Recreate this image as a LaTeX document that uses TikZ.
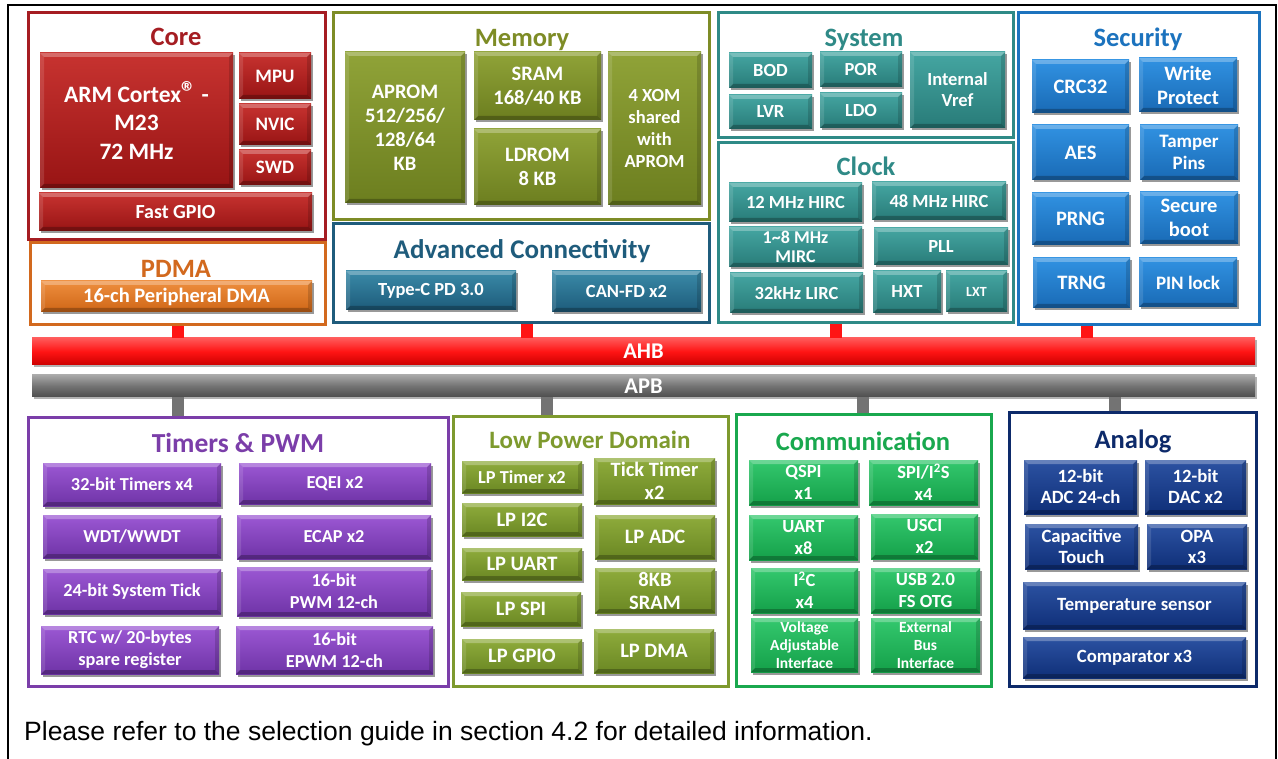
\documentclass[tikz,border=0pt]{standalone}
\usepackage{fontspec}
\setmainfont{Carlito}
\newfontfamily\arialf{Liberation Sans}
\usetikzlibrary{shadows}
\definecolor{coreF}{HTML}{A51D22}\definecolor{coreT}{HTML}{C73330}\definecolor{coreB}{HTML}{981414}
\definecolor{pdmaF}{HTML}{D2691E}\definecolor{pdmaT}{HTML}{EE8E3E}\definecolor{pdmaB}{HTML}{CF6616}
\definecolor{memF}{HTML}{7E8C26}\definecolor{memT}{HTML}{90A338}\definecolor{memB}{HTML}{6C7E1F}
\definecolor{advF}{HTML}{1F5C7C}\definecolor{advT}{HTML}{3A8AA8}\definecolor{advB}{HTML}{1D5B7A}
\definecolor{sysF}{HTML}{2F8A87}\definecolor{sysT}{HTML}{45A6A2}\definecolor{sysB}{HTML}{287B78}
\definecolor{secF}{HTML}{1C73BE}\definecolor{secT}{HTML}{3192E2}\definecolor{secB}{HTML}{196AB5}
\definecolor{tmrF}{HTML}{7B3EA9}\definecolor{tmrT}{HTML}{9C58D4}\definecolor{tmrB}{HTML}{6E33A6}
\definecolor{lpF}{HTML}{7E9A2E}\definecolor{lpT}{HTML}{8FAC3C}\definecolor{lpB}{HTML}{6A8723}
\definecolor{comF}{HTML}{19A84E}\definecolor{comT}{HTML}{34C86E}\definecolor{comB}{HTML}{14A049}
\definecolor{anaF}{HTML}{0D2A6A}\definecolor{anaT}{HTML}{2C52A2}\definecolor{anaB}{HTML}{0F2F78}
\definecolor{ahbT}{HTML}{FF5A5A}\definecolor{ahbM}{HTML}{FF1414}\definecolor{ahbB}{HTML}{CC0000}
\definecolor{apbT}{HTML}{A8A8A8}\definecolor{apbM}{HTML}{737373}\definecolor{apbB}{HTML}{4E4E4E}
\newcommand\mybevel{%
  \fill[white,opacity=0.28] (path picture bounding box.north west) -- (path picture bounding box.north east)
    -- ([shift={(-4pt,-4pt)}]path picture bounding box.north east) -- ([shift={(4pt,-4pt)}]path picture bounding box.north west) -- cycle;
  \fill[white,opacity=0.12] (path picture bounding box.north west) -- (path picture bounding box.south west)
    -- ([shift={(4pt,4pt)}]path picture bounding box.south west) -- ([shift={(4pt,-4pt)}]path picture bounding box.north west) -- cycle;
  \fill[black,opacity=0.25] (path picture bounding box.south west) -- (path picture bounding box.south east)
    -- ([shift={(-4pt,4pt)}]path picture bounding box.south east) -- ([shift={(4pt,4pt)}]path picture bounding box.south west) -- cycle;
  \fill[black,opacity=0.15] (path picture bounding box.north east) -- (path picture bounding box.south east)
    -- ([shift={(-4pt,4pt)}]path picture bounding box.south east) -- ([shift={(-4pt,-4pt)}]path picture bounding box.north east) -- cycle;}
\newcommand\bx[7]{\node[#6, minimum width={#4-#2}, minimum height={#5-#3}] (#1) at ({(#2+#4)/2},{(#3+#5)/2}) {#7};}
\newcommand\frm[6]{\node[frame=#6, minimum width={#4-#2}, minimum height={#5-#3}] (#1) at ({(#2+#4)/2},{(#3+#5)/2}) {};}
\newcommand\fs[2]{\fontsize{#1}{#2}\selectfont\bfseries}
\tikzset{
  blk/.style={text=white, align=center, inner sep=0pt, outer sep=0pt,
    font=\fs{18.5}{22},
    drop shadow={shadow xshift=1.5pt, shadow yshift=-2.5pt, opacity=0.4, fill=black},
    path picture={\mybevel}},
  coreblk/.style={blk, top color=coreT, bottom color=coreB, font=\fs{20}{24}},
  pdmablk/.style={blk, top color=pdmaT, bottom color=pdmaB, font=\fs{20.5}{24}},
  memblk/.style={blk, top color=memT, bottom color=memB, font=\fs{20.5}{24}},
  advblk/.style={blk, top color=advT, bottom color=advB},
  sysblk/.style={blk, top color=sysT, bottom color=sysB},
  secblk/.style={blk, top color=secT, bottom color=secB, font=\fs{20.5}{24}},
  tmrblk/.style={blk, top color=tmrT, bottom color=tmrB, font=\fs{18.3}{22}},
  lpblk/.style={blk, top color=lpT, bottom color=lpB, font=\fs{20.5}{23}},
  comblk/.style={blk, top color=comT, bottom color=comB, font=\fs{18.5}{22}},
  anablk/.style={blk, top color=anaT, bottom color=anaB, font=\fs{18.7}{21}},
  frame/.style={draw=#1, line width=3pt, fill=white, inner sep=0pt},
  ttl/.style={anchor=base, text=#1, font=\fs{26.5}{28}, inner sep=0pt},
  bus/.style={inner sep=0pt, text=white, font=\fs{22.5}{24},
    drop shadow={shadow xshift=1.5pt, shadow yshift=-2pt, opacity=0.3, fill=black}},
  ahbstub/.style={line width=12pt, draw=ahbM},
  apbstub/.style={line width=12pt, draw=apbM},
}
\begin{document}
\begin{tikzpicture}[x=1pt,y=-1pt]
\useasboundingbox (0,0) rectangle (1278,759);
\draw[line width=2pt] (8,780) -- (8,5) -- (1276,5) -- (1276,780);
% stub coordinates
\coordinate (s1) at (178,330); \coordinate (s2) at (527,330);
\coordinate (s3) at (836,330); \coordinate (s4) at (1087,330);
\coordinate (g1) at (178,405); \coordinate (g2) at (547,405);
\coordinate (g3) at (863,405); \coordinate (g4) at (1115,405);
% frames
\frm{core}{28}{13}{325}{240}{coreF}
\frm{pdma}{30}{243}{325}{325}{pdmaF}
\frm{mem}{333}{13}{709}{220}{memF}
\frm{adv}{333}{224}{709}{323}{advF}
\frm{sys}{718}{13}{1013}{138}{sysF}
\frm{clk}{718}{143}{1013}{323}{sysF}
\frm{sec}{1018}{13}{1259}{325}{secF}
\frm{tmr}{28}{418}{448}{686}{tmrF}
\frm{lp}{453}{417}{728}{686}{lpF}
\frm{com}{736}{415}{991}{686}{comF}
\frm{ana}{1009}{413}{1256}{686}{anaF}
% buses
\node[bus, top color=ahbT, bottom color=ahbB, middle color=ahbM, minimum width=1223, minimum height=27] (ahb) at (643.5,351.5) {AHB};
\node[bus, top color=apbT, bottom color=apbB, middle color=apbM, minimum width=1223, minimum height=22] (apb) at (643.5,386) {APB};
% stubs
\draw[ahbstub] (pdma.south -| s1) -- (ahb.north -| s1);
\draw[ahbstub] (adv.south -| s2) -- (ahb.north -| s2);
\draw[ahbstub] (clk.south -| s3) -- (ahb.north -| s3);
\draw[ahbstub] (sec.south -| s4) -- (ahb.north -| s4);
\draw[apbstub] (apb.south -| g1) -- (tmr.north -| g1);
\draw[apbstub] (apb.south -| g2) -- (lp.north -| g2);
\draw[apbstub] (apb.south -| g3) -- (com.north -| g3);
\draw[apbstub] (apb.south -| g4) -- (ana.north -| g4);
% titles
\node[ttl=coreF] (tcore) at (176,46) {Core};
\node[ttl=pdmaF] (tpdma) at (176,278) {PDMA};
\node[ttl=memF] (tmem) at (522,47) {Memory};
\node[ttl=advF, font=\fs{27}{28}] (tadv) at (522,259) {Advanced Connectivity};
\node[ttl=sysF] (tsys) at (864,47) {System};
\node[ttl=sysF] (tclk) at (866,176) {Clock};
\node[ttl=secF] (tsec) at (1138,47) {Security};
\node[ttl=tmrF, font=\fs{27.5}{28}] (ttmr) at (238,453) {Timers \& PWM};
\node[ttl=lpF, font=\fs{25}{26}] (tlp) at (590,449) {Low Power Domain};
\node[ttl=comF] (tcom) at (863,450) {Communication};
\node[ttl=anaF] (tana) at (1133,449) {Analog};
% Core
\bx{arm}{40}{53}{233}{188}{coreblk, font=\fs{23.5}{28.5}}{ARM Cortex{\fontsize{30}{30}\selectfont ®} -\\M23\\72 MHz}
\bx{mpu}{239}{53}{311}{99}{coreblk, font=\fs{19}{22}}{MPU}
\bx{nvic}{239}{104}{311}{145}{coreblk, font=\fs{19}{22}}{NVIC}
\bx{swd}{239}{150}{311}{185}{coreblk, font=\fs{19}{22}}{SWD}
\bx{gpio}{39}{193}{312}{231}{coreblk}{Fast GPIO}
% PDMA
\bx{dma}{41}{281}{312}{312}{pdmablk}{16-ch Peripheral DMA}
% Memory
\bx{aprom}{345}{52}{465}{203}{memblk}{APROM\\512/256/\\128/64\\KB}
\bx{sram}{474}{52}{601}{120}{memblk}{SRAM\\168/40 KB}
\bx{ldrom}{474}{129}{601}{205}{memblk}{LDROM\\8 KB}
\bx{xom}{608}{52}{701}{205}{memblk, font=\fs{18.5}{22}}{4 XOM\\shared\\with\\APROM}
% Advanced connectivity
\bx{typec}{346}{271}{516}{310}{advblk}{Type-C PD 3.0}
\bx{canfd}{552}{271}{701}{312}{advblk}{CAN-FD x2}
% System
\bx{bod}{729}{53}{812}{88}{sysblk}{BOD}
\bx{por}{820}{52}{902}{87}{sysblk}{POR}
\bx{lvr}{729}{95}{812}{129}{sysblk}{LVR}
\bx{ldo}{820}{93}{902}{128}{sysblk}{LDO}
\bx{vref}{910}{52}{1005}{128}{sysblk, font=\fs{18.5}{21}}{Internal\\Vref}
% Clock
\bx{hirc12}{729}{183}{862}{222}{sysblk}{12 MHz HIRC}
\bx{hirc48}{872}{182}{1006}{220}{sysblk}{48 MHz HIRC}
\bx{mirc}{729}{227}{862}{267}{sysblk, font=\fs{18}{19}}{1\textasciitilde 8 MHz\\MIRC}
\bx{pll}{874}{228}{1008}{265}{sysblk}{PLL}
\bx{lirc}{730}{273}{863}{313}{sysblk}{32kHz LIRC}
\bx{hxt}{873}{271}{941}{313}{sysblk}{HXT}
\bx{lxt}{946}{271}{1007}{312}{sysblk, font=\fs{14}{16}}{LXT}
% Security
\bx{crc}{1032}{60}{1129}{113}{secblk}{CRC32}
\bx{wp}{1139}{58}{1237}{112}{secblk}{Write\\Protect}
\bx{aes}{1032}{125}{1129}{180}{secblk}{AES}
\bx{tamper}{1140}{125}{1238}{180}{secblk, font=\fs{19}{22}}{Tamper\\Pins}
\bx{prng}{1032}{193}{1129}{245}{secblk}{PRNG}
\bx{sboot}{1140}{192}{1238}{244}{secblk}{Secure\\boot}
\bx{trng}{1033}{258}{1130}{308}{secblk}{TRNG}
\bx{pinlock}{1139}{258}{1237}{307}{secblk, font=\fs{19}{22}}{PIN lock}
% Timers & PWM
\bx{t32}{43}{463}{221}{506}{tmrblk}{32-bit Timers x4}
\bx{eqei}{239}{463}{431}{504}{tmrblk}{EQEI x2}
\bx{wdt}{43}{515}{221}{558}{tmrblk}{WDT/WWDT}
\bx{ecap}{237}{515}{431}{559}{tmrblk}{ECAP x2}
\bx{systick}{43}{569}{221}{614}{tmrblk}{24-bit System Tick}
\bx{pwm}{237}{567}{431}{616}{tmrblk}{16-bit\\PWM 12-ch}
\bx{rtc}{41}{626}{219}{674}{tmrblk}{RTC w/ 20-bytes\\spare register}
\bx{epwm}{236}{626}{433}{674}{tmrblk}{16-bit\\EPWM 12-ch}
% Low power domain
\bx{lptmr}{462}{461}{582}{493}{lpblk, font=\fs{18.3}{21}}{LP Timer x2}
\bx{tick}{594}{458}{715}{504}{lpblk}{Tick Timer\\x2}
\bx{lpi2c}{462}{503}{582}{536}{lpblk}{LP I2C}
\bx{lpadc}{595}{515}{715}{559}{lpblk}{LP ADC}
\bx{lpuart}{462}{548}{582}{580}{lpblk}{LP UART}
\bx{lpsram}{595}{568}{715}{613}{lpblk}{8KB\\SRAM}
\bx{lpspi}{461}{592}{581}{626}{lpblk}{LP SPI}
\bx{lpgpio}{462}{639}{582}{673}{lpblk}{LP GPIO}
\bx{lpdma}{594}{629}{714}{673}{lpblk}{LP DMA}
% Communication
\bx{qspi}{749}{460}{858}{505}{comblk}{QSPI\\x1}
\bx{spi}{869}{460}{978}{505}{comblk}{SPI/I\textsuperscript{2}S\\x4}
\bx{uart}{749}{515}{858}{560}{comblk}{UART\\x8}
\bx{usci}{871}{514}{978}{559}{comblk}{USCI\\x2}
\bx{i2c}{751}{568}{858}{613}{comblk}{I\textsuperscript{2}C\\x4}
\bx{usb}{871}{568}{980}{613}{comblk}{USB 2.0\\FS OTG}
\bx{vai}{751}{618}{858}{672}{comblk, font=\fs{15.5}{18}}{Voltage\\Adjustable\\Interface}
\bx{ebi}{871}{618}{980}{672}{comblk, font=\fs{15.5}{18}}{External\\Bus\\Interface}
% Analog
\bx{adc}{1024}{460}{1137}{514}{anablk}{12-bit\\ADC 24-ch}
\bx{dac}{1145}{460}{1246}{514}{anablk}{12-bit\\DAC x2}
\bx{touch}{1025}{524}{1138}{569}{anablk}{Capacitive\\Touch}
\bx{opa}{1147}{524}{1247}{569}{anablk}{OPA\\x3}
\bx{temp}{1023}{582}{1246}{629}{anablk}{Temperature sensor}
\bx{comp}{1023}{637}{1246}{678}{anablk}{Comparator x3}
% note
\node[anchor=base west, inner sep=0pt, font=\arialf\fontsize{26.5}{28}\selectfont] (note) at (24,740) {Please refer to the selection guide in section 4.2 for detailed information.};
\end{tikzpicture}
\end{document}
